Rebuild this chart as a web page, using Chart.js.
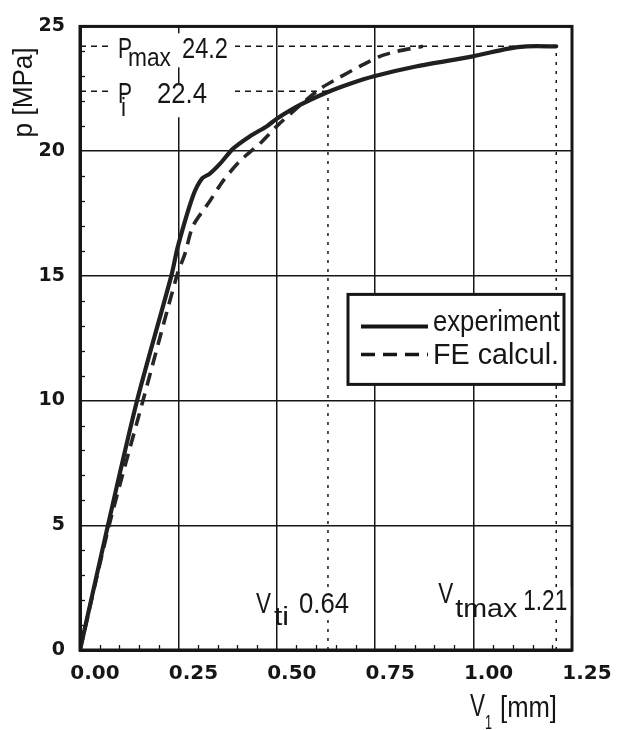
<!DOCTYPE html>
<html>
<head>
<meta charset="utf-8">
<script src="https://cdn.jsdelivr.net/npm/chart.js@4.4.1/dist/chart.umd.min.js"></script>
<style>
html,body{margin:0;padding:0;background:#fff;}
canvas{display:block;}
</style>
</head>
<body>
<canvas id="c" width="618" height="730"></canvas>
<script>
// ---- data ----
const expV = [0, 0.071, 0.145, 0.232, 0.249, 0.287, 0.31, 0.33, 0.356, 0.389, 0.432, 0.475, 0.50, 0.559, 0.627, 0.686, 0.747, 0.856, 0.998, 1.085, 1.135, 1.21];
const expP = [0, 5.0, 10.0, 15.0, 16.2, 18.2, 18.9, 19.1, 19.5, 20.1, 20.6, 21.0, 21.3, 21.85, 22.35, 22.7, 23.0, 23.4, 23.8, 24.1, 24.2, 24.2];
const feV = [0, 0.074, 0.160, 0.246, 0.267, 0.287, 0.33, 0.363, 0.406, 0.457, 0.50, 0.56, 0.61, 0.653, 0.711, 0.762, 0.805, 0.871];
const feP = [0, 5.0, 10.0, 15.0, 15.9, 17.0, 18.0, 18.8, 19.6, 20.3, 21.0, 21.85, 22.5, 22.9, 23.4, 23.8, 24.0, 24.2];
const seriesNames = ['experiment', 'FE calcul.'];
const pMax = 24.2, pI = 22.4;         // horizontal reference levels [MPa]
const vTi = 0.63, vTmax = 1.21;       // vertical reference positions [mm]
const pMaxLabel = '24.2', pILabel = '22.4', vTiLabel = '0.64', vTmaxLabel = '1.21';
const xMin = 0, xMax = 1.25, xStep = 0.25, xMinor = 0.05;
const yMin = 0, yMax = 25, yStep = 5, yMinor = 1;

const INK = '#161616';
const toPts = (xs, ys) => xs.map((x, i) => ({x, y: ys[i]}));

function txt(ctx, s, x, y, size, w) {
  ctx.save();
  ctx.font = size + 'px "Liberation Sans", Arial, sans-serif';
  const m = ctx.measureText(s).width;
  const sx = w ? w / m : 0.85;
  ctx.translate(x, y);
  ctx.scale(sx, 1);
  ctx.textAlign = 'left';
  ctx.textBaseline = 'alphabetic';
  ctx.fillStyle = INK;
  ctx.fillText(s, 0, 0);
  ctx.restore();
}

const decor = {
  id: 'decor',
  beforeDatasetsDraw(chart) {
    const ctx = chart.ctx, xs = chart.scales.x, ys = chart.scales.y, a = chart.chartArea;
    ctx.save();
    ctx.strokeStyle = INK; ctx.lineWidth = 1.3;
    for (let k = 0; k <= Math.round((yMax - yMin) / yMinor); k++) {
      const v = yMin + k * yMinor;
      if (k % Math.round(yStep / yMinor) === 0) continue;
      const py = Math.round(ys.getPixelForValue(v)) + 0.5;
      ctx.beginPath(); ctx.moveTo(a.left, py); ctx.lineTo(a.left + 5, py); ctx.stroke();
    }
    for (let k = 0; k <= Math.round((xMax - xMin) / xMinor); k++) {
      const v = xMin + k * xMinor;
      if (k % Math.round(xStep / xMinor) === 0) continue;
      const px = Math.round(xs.getPixelForValue(v)) + 0.5;
      ctx.beginPath(); ctx.moveTo(px, a.bottom); ctx.lineTo(px, a.bottom - 5); ctx.stroke();
    }
    ctx.restore();
  },
  afterDatasetsDraw(chart) {
    const ctx = chart.ctx, xs = chart.scales.x, ys = chart.scales.y, a = chart.chartArea;
    const X = v => xs.getPixelForValue(v), Y = v => ys.getPixelForValue(v);
    ctx.save();
    // frame
    ctx.strokeStyle = INK; ctx.lineWidth = 3;
    ctx.strokeRect(a.left, a.top, a.right - a.left, a.bottom - a.top);

    // P labels
    ctx.fillStyle = '#fff';
    ctx.fillRect(X(0) + 33, Y(pMax) - 13, 122, 34);
    ctx.fillRect(X(0) + 33, Y(pI) - 8, 122, 34);
    txt(ctx, 'P', X(0) + 38, Y(pMax) + 12, 30, 14);
    txt(ctx, 'max', X(0) + 48, Y(pMax) + 20, 26, 43);
    txt(ctx, pMaxLabel, X(0) + 102, Y(pMax) + 12, 30, 46);
    txt(ctx, 'P', X(0) + 38, Y(pI) + 12, 30, 14);
    txt(ctx, 'i', X(0) + 41, Y(pI) + 25, 26, 5);
    txt(ctx, pILabel, X(0) + 77, Y(pI) + 12, 30, 50);

    // V labels
    ctx.fillStyle = '#fff';
    ctx.fillRect(X(vTi) - 31, Y(0) - 63, 55, 29);
    ctx.fillRect(X(vTmax) - 35, Y(0) - 63, 49, 29);
    txt(ctx, 'V', X(vTi) - 72, Y(0) - 37, 30, 15);
    txt(ctx, 'ti', X(vTi) - 54, Y(0) - 25, 26, 15);
    txt(ctx, vTiLabel, X(vTi) - 29, Y(0) - 37, 30, 50);
    txt(ctx, 'V', X(vTmax) - 118, Y(0) - 47, 30, 15);
    txt(ctx, 'tmax', X(vTmax) - 101, Y(0) - 33, 26, 62);
    txt(ctx, vTmaxLabel, X(vTmax) - 33, Y(0) - 40, 30, 44);

    // legend
    const lx = a.right - 224, ly = a.top + 268, lw = 216, lh = 90;
    ctx.fillStyle = '#fff';
    ctx.fillRect(lx, ly, lw, lh);
    ctx.strokeStyle = INK; ctx.lineWidth = 3;
    ctx.strokeRect(lx, ly, lw, lh);
    ctx.lineWidth = 4; ctx.setLineDash([]);
    ctx.beginPath(); ctx.moveTo(lx + 13, ly + 32); ctx.lineTo(lx + 80, ly + 32); ctx.stroke();
    ctx.lineWidth = 3.5; ctx.setLineDash([14, 8]);
    ctx.beginPath(); ctx.moveTo(lx + 13, ly + 60); ctx.lineTo(lx + 80, ly + 60); ctx.stroke();
    ctx.setLineDash([]);
    txt(ctx, seriesNames[0], lx + 85, ly + 37, 29, 127);
    txt(ctx, seriesNames[1], lx + 85, ly + 70, 29, 126);

    // axis titles
    txt(ctx, 'V', X(xMax) - 102, Y(0) + 66, 31, 15);
    txt(ctx, '1', X(xMax) - 87, Y(0) + 79, 21, 7);
    txt(ctx, '[mm]', X(xMax) - 72, Y(0) + 67, 29, 57);
    ctx.save();
    ctx.translate(X(0) - 48, Y(yMax) + 111);
    ctx.rotate(-Math.PI / 2);
    txt(ctx, 'p [MPa]', 0, 0, 27, 90);
    ctx.restore();
    ctx.restore();
  }
};

const refStyle = {borderColor: INK, borderWidth: 1.5, pointRadius: 0, fill: false, tension: 0};

new Chart(document.getElementById('c'), {
  type: 'line',
  data: {
    datasets: [
      Object.assign({label: 'pmax', data: [{x: 0, y: pMax}, {x: vTmax, y: pMax}], borderDash: [6, 5]}, refStyle),
      Object.assign({label: 'pi', data: [{x: 0, y: pI}, {x: vTi, y: pI}], borderDash: [6, 5]}, refStyle),
      Object.assign({label: 'vti', data: [{x: vTi, y: 0}, {x: vTi, y: pI}], borderDash: [3, 6]}, refStyle),
      Object.assign({label: 'vtmax', data: [{x: vTmax, y: 0}, {x: vTmax, y: pMax}], borderDash: [3, 6]}, refStyle),
      {label: seriesNames[0], data: toPts(expV, expP), borderColor: '#202020', borderWidth: 4.2,
       pointRadius: 0, tension: 0.25, fill: false, borderCapStyle: 'round', borderJoinStyle: 'round'},
      {label: seriesNames[1], data: toPts(feV, feP), borderColor: '#262626', borderWidth: 3.6,
       borderDash: [13, 8], pointRadius: 0, tension: 0.25, fill: false}
    ]
  },
  options: {
    responsive: false,
    devicePixelRatio: 1,
    animation: false,
    layout: {padding: {left: 0, top: 22, right: 46, bottom: 0}},
    plugins: {legend: {display: false}, tooltip: {enabled: false}},
    scales: {
      x: {
        type: 'linear', min: xMin, max: xMax,
        afterFit: s => { s.height = 80; },
        border: {display: true, color: INK, width: 3},
        grid: {color: INK, lineWidth: 1.5, drawTicks: false},
        ticks: {stepSize: xStep, padding: 12, labelOffset: 15, color: INK, maxRotation: 0, autoSkip: false,
                font: {family: 'DejaVu Sans', weight: 'bold', size: 20},
                callback: v => Number(v).toFixed(2)}
      },
      y: {
        type: 'linear', min: yMin, max: yMax,
        afterFit: s => { s.width = 80; },
        border: {display: true, color: INK, width: 3},
        grid: {color: INK, lineWidth: 1.5, drawTicks: false},
        ticks: {stepSize: yStep, padding: 15, color: INK,
                font: {family: 'DejaVu Sans', weight: 'bold', size: 19},
                callback: v => String(v)}
      }
    }
  },
  plugins: [decor]
});
</script>
</body>
</html>
